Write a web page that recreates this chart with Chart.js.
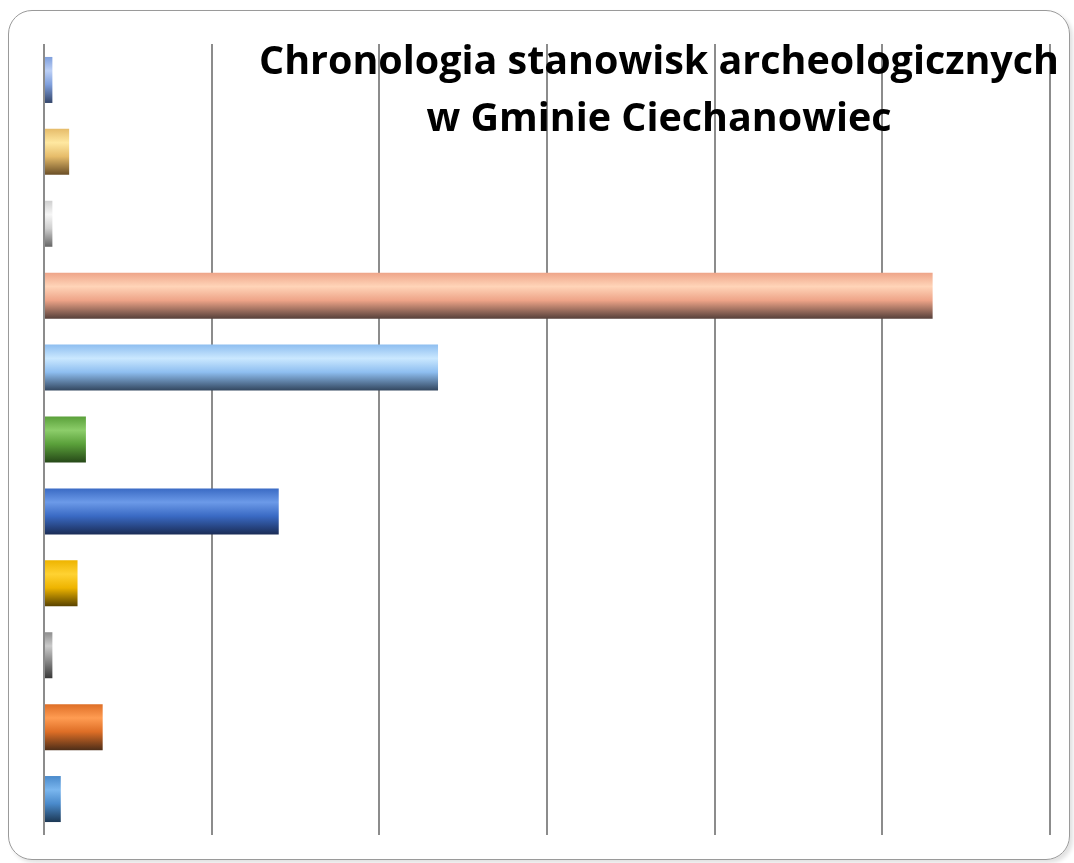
<!DOCTYPE html>
<html>
<head>
<meta charset="utf-8">
<script src="https://cdn.jsdelivr.net/npm/chart.js@4/dist/chart.umd.min.js"></script>
<style>
	html, body { margin: 0; padding: 0; background: #fff; }
	#frame {
		position: absolute; left: 8px; top: 10px; width: 1060px; height: 848px;
		border: 1px solid #9a9a9a; border-radius: 24px;
		box-shadow: 3px 3px 4px rgba(0,0,0,0.12);
	}
	#myChart { position: absolute; left: 0; top: 0; }
</style>
</head>
<body>
<div id="frame"></div>
<canvas id="myChart" width="1074" height="863"></canvas>
<script>
// categories are not labelled in the picture, only numbered here
const labels = ['1', '2', '3', '4', '5', '6', '7', '8', '9', '10', '11'];
const siteCounts = [1, 3, 1, 106, 47, 5, 28, 4, 1, 7, 2];
const xTicks = [0, 20, 40, 60, 80, 100, 120];
const titleLines = ['Chronologia stanowisk archeologicznych', 'w Gminie Ciechanowiec'];

// [top, highlight, dark bottom] for each bar
const barColors = [
	['#7f9fdc', '#bcd0f6', '#34466a'],
	['#e6bc6a', '#ffe8a0', '#6a4e26'],
	['#cfcfcf', '#f6f6f6', '#666666'],
	['#eea488', '#ffd4b8', '#56403a'],
	['#8ebef0', '#cae8ff', '#32465e'],
	['#5aa03a', '#8ccd6a', '#264818'],
	['#3a6ac4', '#6c9ae8', '#1a2c56'],
	['#eeb400', '#ffd232', '#584200'],
	['#8e8e8e', '#cacaca', '#383838'],
	['#de6e26', '#ff9c52', '#4e2e18'],
	['#4a8acb', '#7ab6ee', '#1c3854']
];

const barPct = 0.64;

function barGradient(context) {
	const chart = context.chart;
	const i = context.dataIndex;
	const c = barColors[i];
	if (!chart.chartArea || !chart.scales.y) return c[0];
	const yScale = chart.scales.y;
	const center = yScale.getPixelForValue(i);
	const h = (yScale.height / labels.length) * barPct;
	const g = chart.ctx.createLinearGradient(0, center - h / 2, 0, center + h / 2);
	g.addColorStop(0, c[0]);
	g.addColorStop(0.3, c[1]);
	g.addColorStop(0.6, c[0]);
	g.addColorStop(1, c[2]);
	return g;
}

const titlePlugin = {
	id: 'overTitle',
	afterDraw(chart) {
		const ctx = chart.ctx;
		ctx.save();
		ctx.fillStyle = '#000';
		ctx.textAlign = 'center';
		ctx.textBaseline = 'alphabetic';
		ctx.font = 'bold 40px "Open Sans", sans-serif';
		const w = ctx.measureText(titleLines[0]).width;
		const sx = 800 / w;
		const cx = 659;
		ctx.translate(cx, 0);
		ctx.scale(sx, 1);
		ctx.fillText(titleLines[0], 0, 74);
		ctx.fillText(titleLines[1], 0, 131);
		ctx.restore();
	}
};

const config = {
	type: 'bar',
	data: {
		labels: labels,
		datasets: [{
			data: siteCounts,
			backgroundColor: barGradient,
			borderWidth: 0,
			barPercentage: barPct,
			categoryPercentage: 1
		}]
	},
	options: {
		indexAxis: 'y',
		responsive: false,
		animation: false,
		layout: { padding: { left: 44, right: 24, top: 44, bottom: 28 } },
		plugins: { legend: { display: false }, tooltip: { enabled: false }, title: { display: false } },
		scales: {
			x: {
				min: 0,
				max: 120,
				afterBuildTicks: axis => { axis.ticks = xTicks.map(v => ({ value: v })); },
				ticks: { display: false },
				grid: { color: '#8c8c8c', lineWidth: 2, drawTicks: false },
				border: { display: false }
			},
			y: {
				ticks: { display: false },
				grid: { display: false, drawTicks: false },
				border: { display: false }
			}
		}
	},
	plugins: [titlePlugin]
};

var myChart = new Chart(document.getElementById('myChart'), config);
</script>
</body>
</html>
